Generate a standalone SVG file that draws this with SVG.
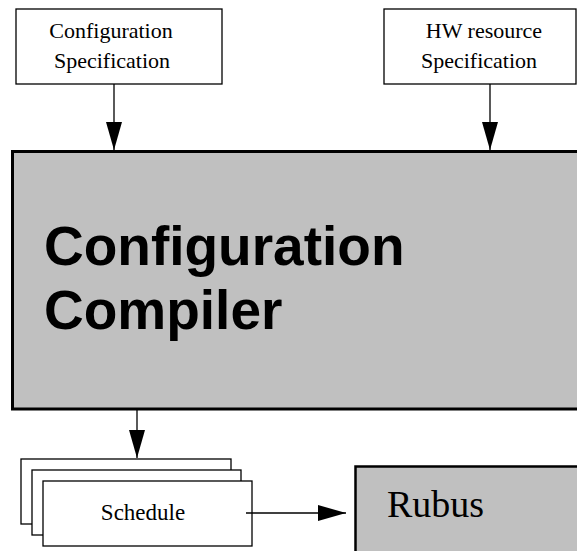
<svg xmlns="http://www.w3.org/2000/svg" width="577" height="551" viewBox="0 0 577 551">
<style>
.box{fill:#fff;stroke:#000;stroke-width:1.3}
.gray{fill:#c0c0c0;stroke:#000}
.serif{font-family:"Liberation Serif","Times New Roman",serif;fill:#000}
.big{font-family:"Liberation Sans",Arial,sans-serif;font-weight:bold;font-size:55px;fill:#000}
.conn{stroke:#000;stroke-width:1.3;fill:none}
</style>
<defs>
<marker id="ah" viewBox="0 0 28 16" refX="28" refY="8" markerWidth="28" markerHeight="16" markerUnits="userSpaceOnUse" orient="auto">
<path d="M0,0 L28,8 L0,16 Z" fill="#000"/>
</marker>
</defs>
<rect width="577" height="551" fill="#fff"/>
<g id="config-spec">
<rect class="box" x="16" y="9" width="206" height="75"/>
<text class="serif" font-size="22" text-anchor="middle" x="111" y="38">Configuration</text>
<text class="serif" font-size="22" text-anchor="middle" x="112" y="68">Specification</text>
</g>
<g id="hw-spec">
<rect class="box" x="384" y="9" width="192" height="75"/>
<text class="serif" font-size="22" text-anchor="middle" x="484" y="38">HW resource</text>
<text class="serif" font-size="22" text-anchor="middle" x="479" y="68">Specification</text>
</g>
<g id="compiler">
<rect class="gray" stroke-width="3" x="12.5" y="151.5" width="600" height="257.5"/>
<text class="big" x="44" y="265">Configuration</text>
<text class="big" x="44" y="329">Compiler</text>
</g>
<g id="schedule">
<rect class="box" x="21" y="459" width="210" height="65"/>
<rect class="box" x="32" y="470" width="209" height="65"/>
<rect class="box" x="43" y="481" width="209" height="65"/>
<text class="serif" font-size="23" text-anchor="middle" x="143" y="520">Schedule</text>
</g>
<g id="rubus">
<rect class="gray" stroke-width="2.5" x="355.5" y="466.5" width="260" height="120"/>
<text class="serif" font-size="38" x="387" y="517">Rubus</text>
</g>
<g id="connectors">
<line class="conn" x1="114" y1="84" x2="114" y2="150" marker-end="url(#ah)"/>
<line class="conn" x1="490" y1="84" x2="490" y2="150" marker-end="url(#ah)"/>
<line class="conn" x1="137" y1="410" x2="137" y2="458" marker-end="url(#ah)"/>
<line class="conn" x1="246" y1="513" x2="346" y2="513" marker-end="url(#ah)"/>
</g>
</svg>
